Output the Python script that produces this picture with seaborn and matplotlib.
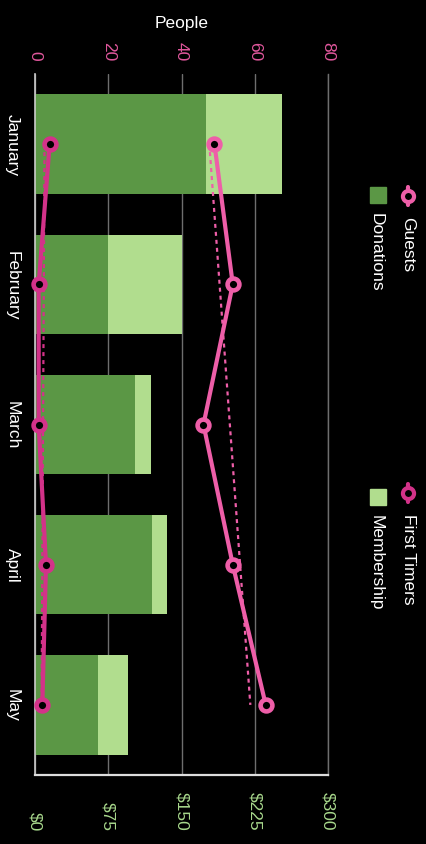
import numpy as np
import pandas as pd
import matplotlib.pyplot as plt
from matplotlib.lines import Line2D
from matplotlib.patches import Rectangle
import seaborn as sns

# data
months = ['January', 'February', 'March', 'April', 'May']
donations = [175, 75, 102, 120, 65]
membership = [78, 75, 17, 15, 30]
guests = [49, 54, 46, 54, 63]
first_timers = [4, 1, 1, 3, 2]

money_ticks = [0, 75, 150, 225, 300]
money_labels = ['$0', '$75', '$150', '$225', '$300']
people_ticks = [0, 20, 40, 60, 80]

# colours
bg = 'black'
c_don = '#5b9745'
c_mem = '#b1dd8e'
c_guest = '#ee5ea8'
c_first = '#d33289'
c_pink_lbl = '#e0579c'
c_green_lbl = '#a8d88c'
c_grid = '#6e6e6e'

sns.set_theme(style='dark', rc={'axes.facecolor': bg, 'figure.facecolor': bg,
                                'savefig.facecolor': bg, 'text.color': 'white'})
plt.rcParams['font.family'] = ['Liberation Sans', 'DejaVu Sans']

df = pd.DataFrame({'month': months, 'donations': donations, 'membership': membership,
                   'guests': guests, 'first': first_timers})
df['total'] = df['donations'] + df['membership']
df['pos'] = np.arange(len(df))

W, H = 426, 845
fig = plt.figure(figsize=(W / 100, H / 100), dpi=100)
ax = fig.add_axes([35 / W, 1 - 776 / H, 293 / W, 701 / H])

# stacked horizontal bars (dollars, bottom axis)
sns.barplot(data=df, x='total', y='month', color=c_mem, width=0.71, saturation=1,
            orient='h', linewidth=0, ax=ax)
sns.barplot(data=df, x='donations', y='month', color=c_don, width=0.71, saturation=1,
            orient='h', linewidth=0, ax=ax)
ax.set_xlim(0, 300)
ax.set_xticks(money_ticks, money_labels)
ax.set_xlabel('')
ax.set_ylabel('')
ax.grid(True, axis='x', color=c_grid, lw=1)
ax.grid(False, axis='y')
ax.set_axisbelow(True)
ax.spines['top'].set_visible(False)
ax.spines['right'].set_color(c_grid)
ax.spines['right'].set_linewidth(1)
ax.spines['left'].set_color('#cccccc')
ax.spines['left'].set_linewidth(1.2)
ax.spines['bottom'].set_color('#dddddd')
ax.spines['bottom'].set_linewidth(1.6)

ax.tick_params(axis='x', length=0, labelsize=12.5, labelcolor=c_green_lbl,
               labelrotation=270, pad=39.6)
for lab in ax.get_xticklabels():
    lab.set_verticalalignment('bottom')
ax.tick_params(axis='y', length=0, labelsize=12.5, labelcolor='white',
               labelrotation=270, pad=10.8)
for lab in ax.get_yticklabels():
    lab.set_verticalalignment('center')

# people lines (top axis)
ax2 = ax.twiny()
for col, c in [('guests', c_guest), ('first', c_first)]:
    fit = np.polyfit(df['pos'], df[col], 1)
    trend = np.polyval(fit, df['pos'])
    ax2.plot(trend, df['pos'], ls=(0, (1.8, 1.8)), lw=1.6, color=c, zorder=1)
    sns.lineplot(data=df, x=col, y='pos', orient='y', color=c, lw=3, marker='o',
                 markersize=8.5, markeredgewidth=3.3, markerfacecolor='black',
                 markeredgecolor=c, clip_on=False, ax=ax2, zorder=3)

ax2.set_xlim(0, 80)
ax2.set_xticks(people_ticks)
ax2.set_xlabel('People', color='white', fontsize=12.5, labelpad=10)
ax2.set_ylabel('')
ax2.tick_params(axis='x', length=0, labelsize=12.5, labelcolor=c_pink_lbl,
                labelrotation=270, pad=10)
ax2.grid(False)
for s in ax2.spines.values():
    s.set_visible(False)
ax.set_ylim(4.5, -0.5)

# legend, drawn rotated like the rest of the chart
def fx(px):
    return px / W


def fy(py):
    return 1 - py / H


for px, py, c, name in [(408, 197, c_guest, 'Guests'), (408, 494, c_first, 'First Timers')]:
    fig.add_artist(Line2D([fx(px), fx(px)], [fy(py - 9), fy(py + 9)], color=c, lw=3,
                          transform=fig.transFigure))
    fig.add_artist(Line2D([fx(px)], [fy(py)], marker='o', markersize=8, markeredgewidth=3,
                          markerfacecolor='black', markeredgecolor=c,
                          transform=fig.transFigure))
    fig.text(fx(px), fy(py + 20), name, rotation=270, ha='center', va='top',
             fontsize=12.5, color='white')

for py, c, name in [(196, c_don, 'Donations'), (498, c_mem, 'Membership')]:
    fig.add_artist(Rectangle((fx(370), fy(py + 8)), 16 / W, 16 / H, color=c,
                             transform=fig.transFigure))
    fig.text(fx(376), fy(py + 17), name, rotation=270, ha='center', va='top',
             fontsize=12.5, color='white')

fig.savefig('out.png', dpi=100)
